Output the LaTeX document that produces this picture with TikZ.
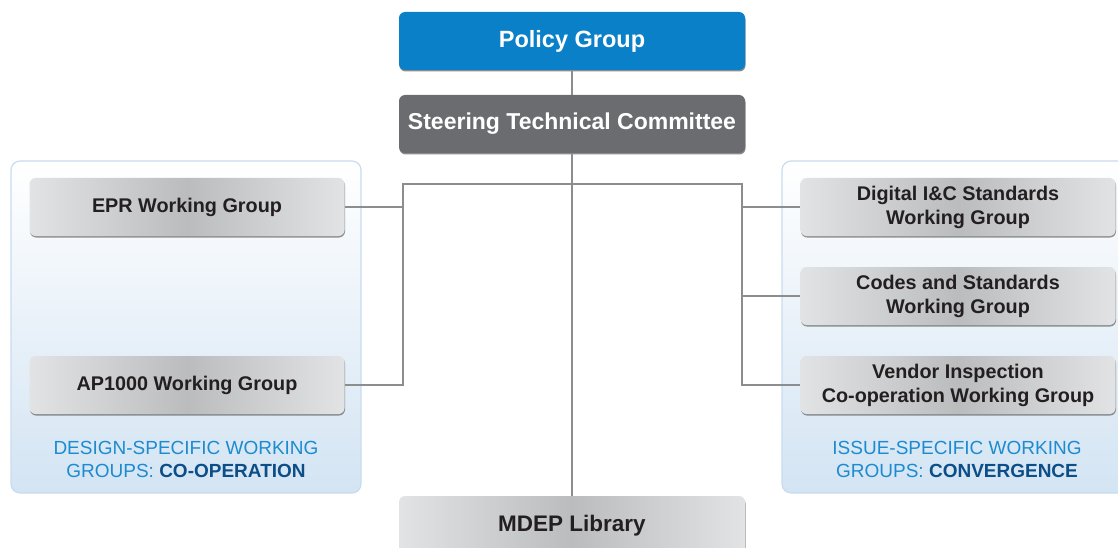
\documentclass[tikz,border=0pt]{standalone}
\usepackage{fontspec}
\setmainfont{Liberation Sans}
\usetikzlibrary{shadows}
\definecolor{policyblue}{HTML}{0A80C8}
\definecolor{steergray}{HTML}{6B6C70}
\definecolor{boxlight}{HTML}{E2E3E4}
\definecolor{boxdark}{HTML}{BBBCBE}
\definecolor{panelline}{HTML}{C8DCEF}
\definecolor{panelfill}{HTML}{D3E4F3}
\definecolor{linkgray}{HTML}{8C8D8F}
\definecolor{caplight}{HTML}{1C8BD0}
\definecolor{capdark}{HTML}{0B4E88}
\definecolor{boxtext}{HTML}{231F20}

\begin{document}
\begin{tikzpicture}[x=1pt, y=-1pt,
		topbox/.style={rectangle, rounded corners=6pt, minimum width=346pt, minimum height=58pt,
			text=white, font=\bfseries\fontsize{23}{24}\selectfont,
			drop shadow={shadow xshift=0.5pt, shadow yshift=-1.5pt, fill=black, opacity=.45}},
		wgbox/.style={rectangle, rounded corners=6pt, minimum width=315pt, minimum height=58pt,
			left color=boxlight, right color=boxlight, middle color=boxdark,
			align=center, text=boxtext, font=\bfseries\fontsize{19.8}{24}\selectfont,
			drop shadow={shadow xshift=0.5pt, shadow yshift=-1.5pt, fill=black!70, opacity=.6}},
		panel/.style={draw=panelline, line width=1.2pt, rounded corners=9pt, top color=white, bottom color=panelfill},
		caption/.style={align=center, text=caplight, font=\fontsize{19}{23}\selectfont},
		link/.style={draw=linkgray, line width=2pt}]
			%%%%% START %%%%%
			
			\useasboundingbox (0, 0) rectangle (1118, 548);
			\clip (0, 0) rectangle (1118, 548);
			
			% panels behind the working groups
			\draw[panel] (11, 161) rectangle (361, 493);
			\draw[panel] (782, 161) rectangle (1135, 493);
			
			\node[topbox, fill=policyblue, font=\bfseries\fontsize{23.5}{24}\selectfont] (policy) at (572, 41) {Policy Group};
			\node[topbox, fill=steergray] (steering) at (572, 124) {Steering Technical Committee};
			\node[topbox, left color=boxlight, right color=boxlight, middle color=boxdark,
				text=boxtext, font=\bfseries\fontsize{22.5}{24}\selectfont, minimum height=60pt] (library) at (572, 526) {MDEP Library};
			
			\node[wgbox] (epr) at (187, 207) {EPR Working Group};
			\node[wgbox] (ap) at (187, 385) {AP1000 Working Group};
			
			\node[wgbox] (digital) at (958, 207) {Digital I\&C Standards\\Working Group};
			\node[wgbox] (codes) at (958, 296) {Codes and Standards\\Working Group};
			\node[wgbox] (vendor) at (958, 385) {Vendor Inspection\\Co-operation Working Group};
			
			\node[caption] (designcap) at (186, 459) {DESIGN-SPECIFIC WORKING\\GROUPS: {\bfseries\color{capdark}CO-OPERATION}};
			\node[caption] (issuecap) at (957, 459) {ISSUE-SPECIFIC WORKING\\GROUPS: {\bfseries\color{capdark}CONVERGENCE}};
			
			% connectors
			\coordinate (lbar) at (403, 184);
			\coordinate (rbar) at (742, 184);
			
			\draw[link] (policy) -- (steering);
			\draw[link] (steering) -- (library);
			\draw[link] (ap.east) -| (lbar) -- (rbar) |- (vendor.west);
			\draw[link] (epr.east) -- (epr.east -| lbar);
			\draw[link] (digital.west) -- (digital.west -| rbar);
			\draw[link] (codes.west) -- (codes.west -| rbar);
			
			%%%%% END %%%%%
		\end{tikzpicture}
\end{document}
